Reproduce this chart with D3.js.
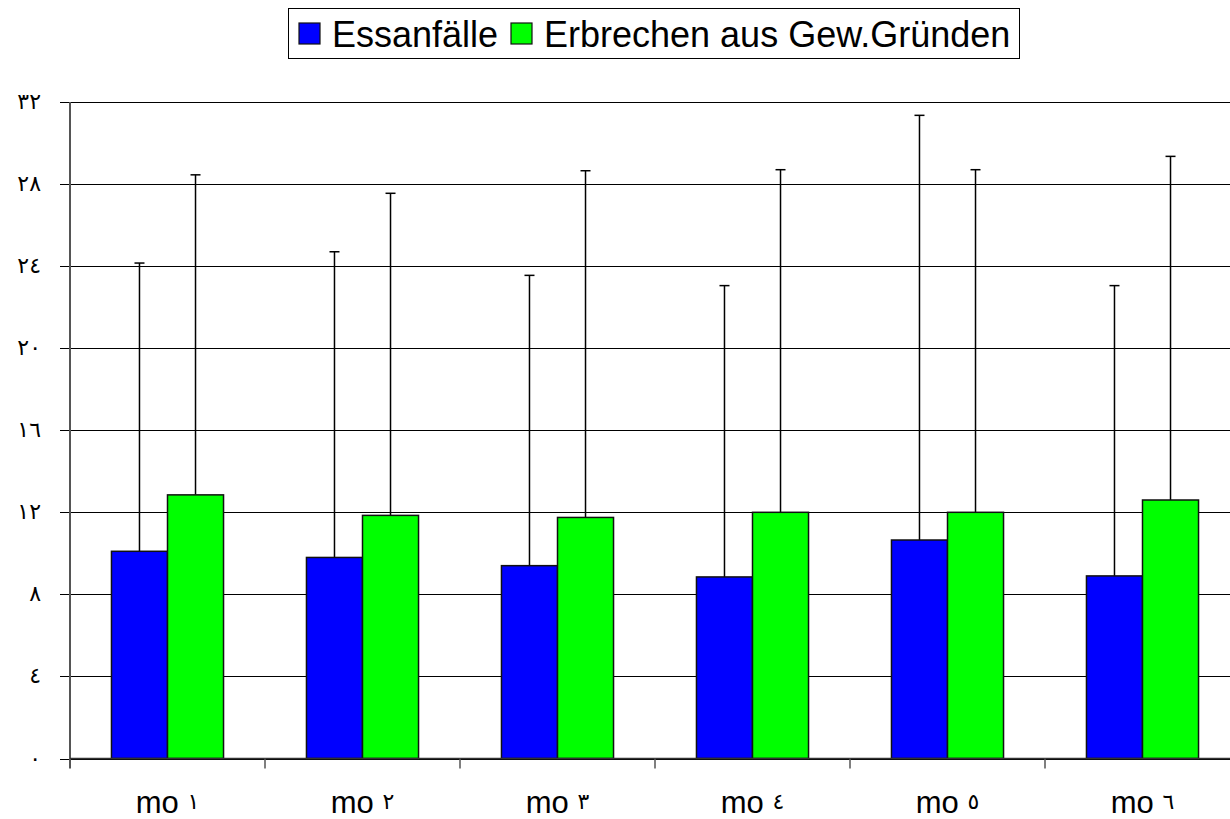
<!DOCTYPE html>
<html>
<head>
<meta charset="utf-8">
<script src="https://cdn.jsdelivr.net/npm/d3@7"></script>
<style>
  body { margin: 0; background: #fff; }
  svg { display: block; }
</style>
</head>
<body>
<svg id="canvas" width="1230" height="819"></svg>
<script>
// data
const months = ['mo ١', 'mo ٢', 'mo ٣', 'mo ٤', 'mo ٥', 'mo ٦']
const seriesNames = ['Essanfälle', 'Erbrechen aus Gew.Gründen']
const seriesColors = ['#0000ff', '#00ff00']
const essMean = [10.1, 9.8, 9.4, 8.85, 10.65, 8.9]
const essSd = [14.05, 14.9, 14.15, 14.2, 20.7, 14.15]
const erbMean = [12.85, 11.85, 11.75, 12.0, 12.0, 12.6]
const erbSd = [15.6, 15.7, 16.9, 16.7, 16.7, 16.75]
const yTicks = [0, 4, 8, 12, 16, 20, 24, 28, 32]

let canvas = d3.select('#canvas')

let arabic = d3.formatLocale({
    decimal: '.', thousands: ',', grouping: [3], currency: ['', ''],
    numerals: ['٠', '١', '٢', '٣', '٤', '٥', '٦', '٧', '٨', '٩']
}).format('d')

let plotLeft = 70, plotRight = 1230, plotTop = 102, plotBottom = 758.5
let step = 195

let xScale = d3.scaleBand()
               .domain(months)
               .range([plotLeft, plotLeft + step * months.length])
let inner = d3.scaleBand()
              .domain([0, 1])
              .range([0, step])
              .paddingInner(0)
              .paddingOuter(0.74)
let yScale = d3.scaleLinear()
               .domain([0, 32])
               .range([plotBottom, plotTop])

// gridlines
canvas.append('g')
      .selectAll('line')
      .data(yTicks)
      .enter()
      .append('line')
      .attr('x1', plotLeft - 10)
      .attr('x2', plotRight)
      .attr('y1', (d) => Math.round(yScale(d)) + 0.5)
      .attr('y2', (d) => Math.round(yScale(d)) + 0.5)
      .attr('stroke', '#000')
      .attr('stroke-width', 1)

// y labels
canvas.append('g')
      .selectAll('text')
      .data(yTicks)
      .enter()
      .append('text')
      .text((d) => arabic(d))
      .attr('x', 41)
      .attr('y', (d) => yScale(d) + 7)
      .attr('text-anchor', 'end')
      .attr('font-family', 'DejaVu Sans')
      .attr('font-size', 22)

let rows = months.map((m, i) => ({
    month: m,
    vals: [
        { s: 0, mean: essMean[i], sd: essSd[i] },
        { s: 1, mean: erbMean[i], sd: erbSd[i] }
    ]
}))

let groups = canvas.selectAll('g.cat')
                   .data(rows)
                   .enter()
                   .append('g')
                   .attr('class', 'cat')
                   .attr('transform', (d) => 'translate(' + xScale(d.month) + ',0)')

// error bars (upper only)
groups.selectAll('g.err')
      .data((d) => d.vals)
      .enter()
      .append('g')
      .attr('class', 'err')
      .each(function(d) {
          let g = d3.select(this)
          let cx = inner(d.s) + inner.bandwidth() / 2
          g.append('line')
           .attr('x1', cx).attr('x2', cx)
           .attr('y1', yScale(d.mean))
           .attr('y2', yScale(d.mean + d.sd))
           .attr('stroke', '#000')
           .attr('stroke-width', 1.5)
          g.append('line')
           .attr('x1', cx - 5).attr('x2', cx + 5)
           .attr('y1', yScale(d.mean + d.sd))
           .attr('y2', yScale(d.mean + d.sd))
           .attr('stroke', '#000')
           .attr('stroke-width', 1.5)
      })

// bars
groups.selectAll('rect')
      .data((d) => d.vals)
      .enter()
      .append('rect')
      .attr('x', (d) => inner(d.s))
      .attr('y', (d) => yScale(d.mean))
      .attr('width', inner.bandwidth())
      .attr('height', (d) => yScale(0) - yScale(d.mean))
      .attr('fill', (d) => seriesColors[d.s])
      .attr('stroke', '#111')
      .attr('stroke-width', 1.5)

// axes lines
canvas.append('line')
      .attr('x1', plotLeft).attr('x2', plotLeft)
      .attr('y1', plotTop).attr('y2', plotBottom + 10)
      .attr('stroke', '#555')
      .attr('stroke-width', 2)
canvas.append('line')
      .attr('x1', plotLeft).attr('x2', plotRight)
      .attr('y1', plotBottom).attr('y2', plotBottom)
      .attr('stroke', '#333')
      .attr('stroke-width', 1.5)

// category ticks
canvas.append('g')
      .selectAll('line')
      .data(months.slice(1))
      .enter()
      .append('line')
      .attr('x1', (d) => xScale(d))
      .attr('x2', (d) => xScale(d))
      .attr('y1', plotBottom)
      .attr('y2', plotBottom + 10)
      .attr('stroke', '#555')
      .attr('stroke-width', 1.5)

// x labels: latin part and arabic digit
let xLabels = canvas.append('g')
                    .selectAll('text')
                    .data(months)
                    .enter()
                    .append('text')
                    .attr('x', (d) => xScale(d) + step / 2)
                    .attr('y', 813)
                    .attr('text-anchor', 'middle')
                    .attr('font-family', 'Liberation Sans, Arial, sans-serif')
                    .attr('font-size', 31)
xLabels.append('tspan')
       .text((d) => d.split(' ')[0] + ' ')
xLabels.append('tspan')
       .text((d) => d.split(' ')[1])
       .attr('font-family', 'DejaVu Sans')
       .attr('font-size', 22)
       .attr('dy', -4)

// legend
let legend = canvas.append('g')
legend.append('rect')
      .attr('x', 288.5).attr('y', 8.5)
      .attr('width', 731).attr('height', 50)
      .attr('fill', '#fff')
      .attr('stroke', '#000')
      .attr('stroke-width', 1)

let legX = [299, 511]
seriesNames.forEach((name, i) => {
    legend.append('rect')
          .attr('x', legX[i]).attr('y', 23)
          .attr('width', 21).attr('height', 21)
          .attr('fill', seriesColors[i])
          .attr('stroke', '#111')
          .attr('stroke-width', 1.2)
    legend.append('text')
          .text(name)
          .attr('x', legX[i] + 33)
          .attr('y', 47)
          .attr('font-family', 'Liberation Sans, Arial, sans-serif')
          .attr('font-size', 36)
})
</script>
</body>
</html>
